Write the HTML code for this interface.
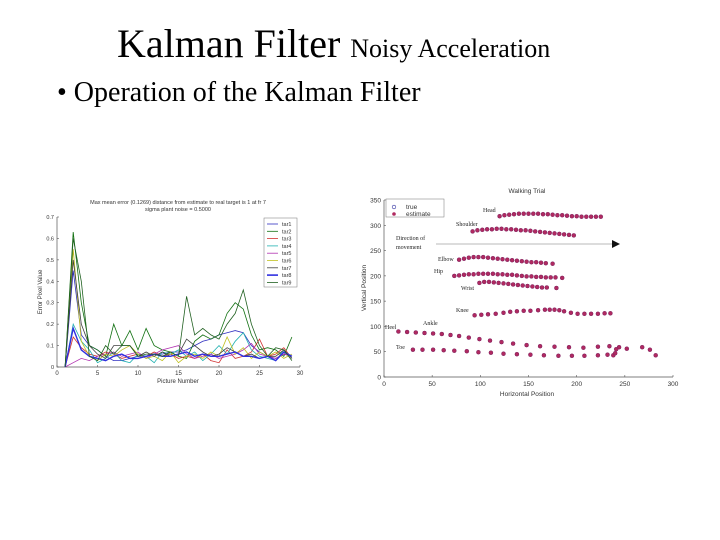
<!DOCTYPE html>
<html><head><meta charset="utf-8"><style>
html,body{margin:0;padding:0;background:#fff;}
svg{display:block;}
.serif{font-family:"Liberation Serif",serif;}
.sans{font-family:"Liberation Sans",sans-serif;}
</style></head><body>
<svg id="s" width="720" height="540" xmlns="http://www.w3.org/2000/svg">
<text class="serif" x="117" y="57" font-size="40">Kalman Filter <tspan font-size="26">Noisy Acceleration</tspan></text>
<text class="serif" x="57" y="101" font-size="28">• Operation of the Kalman Filter</text>
<g id="left"></g>
<g id="right"></g>
</svg>
<script>
const NS="http://www.w3.org/2000/svg";
const frameCats=[1,2,3,4,5,6,7,8,9,10,11,12,13,14,15,16,17,18,19,20,21,22,23,24,25,26,27,28,29];
const seriesNames=["tar1","tar2","tar3","tar4","tar5","tar6","tar7","tar8","tar9"];
const seriesColors=["#3030c0","#107010","#d03030","#20b0b0","#b030b0","#c0c020","#404040","#3030e0","#206020"];
const tar1=[0,0.45,0.15,0.1,0.08,0.05,0.03,0.03,0.04,0.05,0.05,0.06,0.06,0.07,0.07,0.08,0.1,0.12,0.13,0.15,0.16,0.17,0.16,0.1,0.07,0.05,0.04,0.06,0.05];
const tar2=[0,0.63,0.3,0.1,0.08,0.05,0.2,0.1,0.17,0.08,0.18,0.1,0.08,0.07,0.05,0.04,0.12,0.15,0.13,0.15,0.25,0.3,0.27,0.15,0.08,0.09,0.08,0.05,0.14];
const tar3=[0,0.14,0.09,0.06,0.05,0.07,0.06,0.04,0.05,0.06,0.05,0.07,0.05,0.06,0.04,0.05,0.04,0.06,0.03,0.02,0.08,0.04,0.05,0.07,0.13,0.05,0.06,0.09,0.04];
const tar4=[0,0.2,0.12,0.08,0.02,0.04,0.07,0.03,0.02,0.06,0.05,0.02,0.07,0.06,0.08,0.05,0.07,0.03,0.06,0.1,0.06,0.12,0.16,0.08,0.05,0.04,0.03,0.08,0.04];
const tar5=[0,0.02,0.04,0.03,0.05,0.06,0.07,0.05,0.06,0.07,0.04,0.06,0.08,0.09,0.1,0.06,0.04,0.05,0.06,0.04,0.05,0.06,0.08,0.11,0.06,0.05,0.04,0.06,0.05];
const tar6=[0,0.55,0.12,0.05,0.03,0.06,0.05,0.08,0.1,0.06,0.04,0.05,0.03,0.07,0.02,0.05,0.06,0.04,0.07,0.05,0.14,0.06,0.09,0.04,0.07,0.05,0.07,0.04,0.06];
const tar7=[0,0.5,0.2,0.1,0.06,0.04,0.1,0.1,0.1,0.05,0.07,0.05,0.07,0.05,0.06,0.13,0.1,0.07,0.05,0.06,0.09,0.07,0.05,0.06,0.04,0.05,0.05,0.08,0.04];
const tar8=[0,0.18,0.08,0.05,0.04,0.03,0.05,0.06,0.04,0.04,0.05,0.06,0.05,0.05,0.06,0.07,0.05,0.06,0.05,0.05,0.06,0.07,0.05,0.05,0.04,0.05,0.03,0.07,0.05];
const tar9=[0,0.6,0.4,0.05,0.03,0.1,0.06,0.1,0.1,0.05,0.06,0.06,0.05,0.07,0.05,0.33,0.15,0.18,0.15,0.13,0.2,0.25,0.36,0.2,0.1,0.05,0.09,0.08,0.03];
const allSeries=[tar1,tar2,tar3,tar4,tar5,tar6,tar7,tar8,tar9];
const xTicksL=[0,5,10,15,20,25,30];
const yTicksL=[0,0.1,0.2,0.3,0.4,0.5,0.6,0.7];

const xTicksR=[0,50,100,150,200,250,300];
const yTicksR=[0,50,100,150,200,250,300,350];
const jointNames=["Head","Shoulder","Elbow","Hip","Wrist","Knee","Heel","Toe"];
const jointX=[
[120,125,130,135,140,145,150,155,160,165,170,175,180,185,190,195,200,205,210,215,220,225],
[92,97,102,107,112,117,122,127,132,137,142,147,152,157,162,167,172,177,182,187,192,197],
[78,83,88,93,98,103,108,113,118,123,128,133,138,143,148,153,158,163,168,175],
[73,78,83,88,93,98,103,108,113,118,123,128,133,138,143,148,153,158,163,168,173,178,185],
[99,104,109,114,119,124,129,134,139,144,149,154,159,164,169,179],
[94,101,108,116,124,131,138,145,152,160,167,172,177,182,187,194,201,208,215,222,229,235],
[15,24,33,42,51,60,69,78,88,99,110,122,134,148,162,177,192,207,222,234,244,252,268,276,282],
[30,40,51,62,73,86,98,111,124,138,152,166,181,195,208,222,232,238,240,241]];
const jointY=[
[318,320,321,322,323,323,323,323,323,322,322,321,320,320,319,318,318,317,317,317,317,317],
[288,290,291,292,292,293,293,292,292,291,290,290,289,288,287,286,285,284,283,282,281,280],
[232,234,236,237,237,237,236,235,234,233,232,231,230,229,228,227,227,226,225,224],
[200,201,202,203,203,204,204,204,204,203,203,202,202,201,200,199,199,198,198,197,197,197,196],
[186,188,188,187,186,185,184,183,182,181,180,179,178,177,177,176],
[122,123,124,125,127,129,130,131,131,132,133,133,133,132,130,127,125,125,125,125,126,126],
[90,89,88,87,86,85,83,81,78,75,72,69,66,63,61,60,59,58,60,61,59,56,59,54,43],
[54,54,54,53,52,51,49,48,46,45,44,43,42,42,42,43,44,43,47,55]];

function el(tag,attrs,parent,text){const e=document.createElementNS(NS,tag);for(const k in attrs)e.setAttribute(k,attrs[k]);if(text!==undefined)e.textContent=text;parent.appendChild(e);return e;}

// LEFT chart
const L=document.getElementById('left');
const lx0=57,lx1=300,ly0=367,ly1=217;
const sxL=v=>lx0+(v-0)/30*(lx1-lx0);
const syL=v=>ly0-(v/0.7)*(ly0-ly1);
let t=el('text',{x:178,y:204,'font-size':5.5,'text-anchor':'middle',class:'sans',fill:'#333'},L,'Max mean error (0.1269) distance from estimate to real target is 1 at fr 7');


t=el('text',{x:178,y:211,'font-size':5.5,'text-anchor':'middle',class:'sans',fill:'#333'},L,'sigma plant noise = 0.5000');


let a=el('path',{d:`M${lx0},${ly1}V${ly0}H${lx1}`,stroke:'#555',fill:'none','stroke-width':0.7},L);


xTicksL.forEach(v=>{const x=sxL(v);
 const tk=el('line',{x1:x,x2:x,y1:ly0,y2:ly0-2,stroke:'#555','stroke-width':0.6},L);
 
 
 const tl=el('text',{x:x,y:ly0+8,'font-size':6,'text-anchor':'middle',class:'sans',fill:'#333'},L,String(v));
 
 });
yTicksL.forEach(v=>{const y=syL(v);
 const tk=el('line',{x1:lx0,x2:lx0+2,y1:y,y2:y,stroke:'#555','stroke-width':0.6},L);
 
 
 const tl=el('text',{x:lx0-3,y:y+2,'font-size':5.5,'text-anchor':'end',class:'sans',fill:'#333'},L,v===0?'0':v.toFixed(1));
 
 });
t=el('text',{x:178,y:383,'font-size':6,'text-anchor':'middle',class:'sans',fill:'#333'},L,'Picture Number');


t=el('text',{x:42,y:292,'font-size':6,'text-anchor':'middle',class:'sans',fill:'#333',transform:'rotate(-90 42 292)'},L,'Error Pixel Value');


allSeries.forEach((s,i)=>{
 const d=s.map((v,j)=>(j?'L':'M')+sxL(frameCats[j]).toFixed(1)+','+syL(v).toFixed(1)).join('');
 const p=el('path',{d:d,stroke:seriesColors[i],fill:'none','stroke-width':i===7?1.4:0.8},L);
 
 
});
const lg=el('g',{},L);


el('rect',{x:264,y:218,width:33,height:69,fill:'#fff',stroke:'#777','stroke-width':0.5},lg);
seriesNames.forEach((n,i)=>{const y=224+i*7.3;
 const ln=el('line',{x1:267,x2:278,y1:y,y2:y,stroke:seriesColors[i],'stroke-width':i===7?1.6:0.8},lg);
 
 
 const lt=el('text',{x:282,y:y+2,'font-size':5.5,class:'sans',fill:'#333'},lg,n);
 
 });

// RIGHT chart
const R=document.getElementById('right');
const rx0=384,rx1=673,ry0=377,ry1=200;
const sxR=v=>rx0+v/300*(rx1-rx0);
const syR=v=>ry0-v/350*(ry0-ry1);
t=el('text',{x:527,y:193,'font-size':6.5,'text-anchor':'middle',class:'sans',fill:'#333'},R,'Walking Trial');


a=el('path',{d:`M${rx0},${ry1}V${ry0}H${rx1}`,stroke:'#555',fill:'none','stroke-width':0.7},R);


xTicksR.forEach(v=>{const x=sxR(v);
 const tk=el('line',{x1:x,x2:x,y1:ry0,y2:ry0-2,stroke:'#555','stroke-width':0.6},R);
 
 
 const tl=el('text',{x:x,y:ry0+9,'font-size':6.5,'text-anchor':'middle',class:'sans',fill:'#333'},R,String(v));
 
 });
yTicksR.forEach(v=>{const y=syR(v);
 const tk=el('line',{x1:rx0,x2:rx0+2,y1:y,y2:y,stroke:'#555','stroke-width':0.6},R);
 
 
 const tl=el('text',{x:rx0-3,y:y+2.5,'font-size':6.5,'text-anchor':'end',class:'sans',fill:'#333'},R,String(v));
 
 });
t=el('text',{x:527,y:396,'font-size':6.5,'text-anchor':'middle',class:'sans',fill:'#333'},R,'Horizontal Position');


t=el('text',{x:366,y:288,'font-size':6.5,'text-anchor':'middle',class:'sans',fill:'#333',transform:'rotate(-90 366 288)'},R,'Vertical Position');


jointNames.forEach((n,i)=>{
 const g=el('g',{},R);
 
 
 jointX[i].forEach((xv,j)=>{
  const c=el('circle',{cx:sxR(xv).toFixed(1),cy:syR(jointY[i][j]).toFixed(1),r:2,fill:'#b02a60',stroke:'#7a2060','stroke-width':0.5},g);
  
  
 });
});
const labels=[["Head",483,212],["Shoulder",456,226],["Elbow",438,261],["Hip",434,273],["Wrist",461,290],["Knee",456,312],["Heel",385,329],["Ankle",423,325],["Toe",396,349],["Direction of",396,240],["movement",396,249]];
labels.forEach(l=>{const tl=el('text',{x:l[1],y:l[2],'font-size':6,class:'serif',fill:'#222'},R,l[0]);
 
 });
const arr=el('g',{},R);


el('line',{x1:436,x2:614,y1:244,y2:244,stroke:'#777','stroke-width':0.6},arr);
el('path',{d:'M612,240L620,244L612,248Z',fill:'#111'},arr);
const rl=el('g',{},R);


el('rect',{x:386,y:199,width:58,height:18,fill:'#fff',stroke:'#777','stroke-width':0.5},rl);
el('circle',{cx:394,cy:207,r:1.8,fill:'none',stroke:'#3030a0','stroke-width':0.6},rl);
el('text',{x:406,y:209,'font-size':6.5,class:'sans',fill:'#333'},rl,'true');
el('circle',{cx:394,cy:214,r:1.8,fill:'#b02a60'},rl);
el('text',{x:406,y:216,'font-size':6.5,class:'sans',fill:'#333'},rl,'estimate');
</script>
</body></html>
